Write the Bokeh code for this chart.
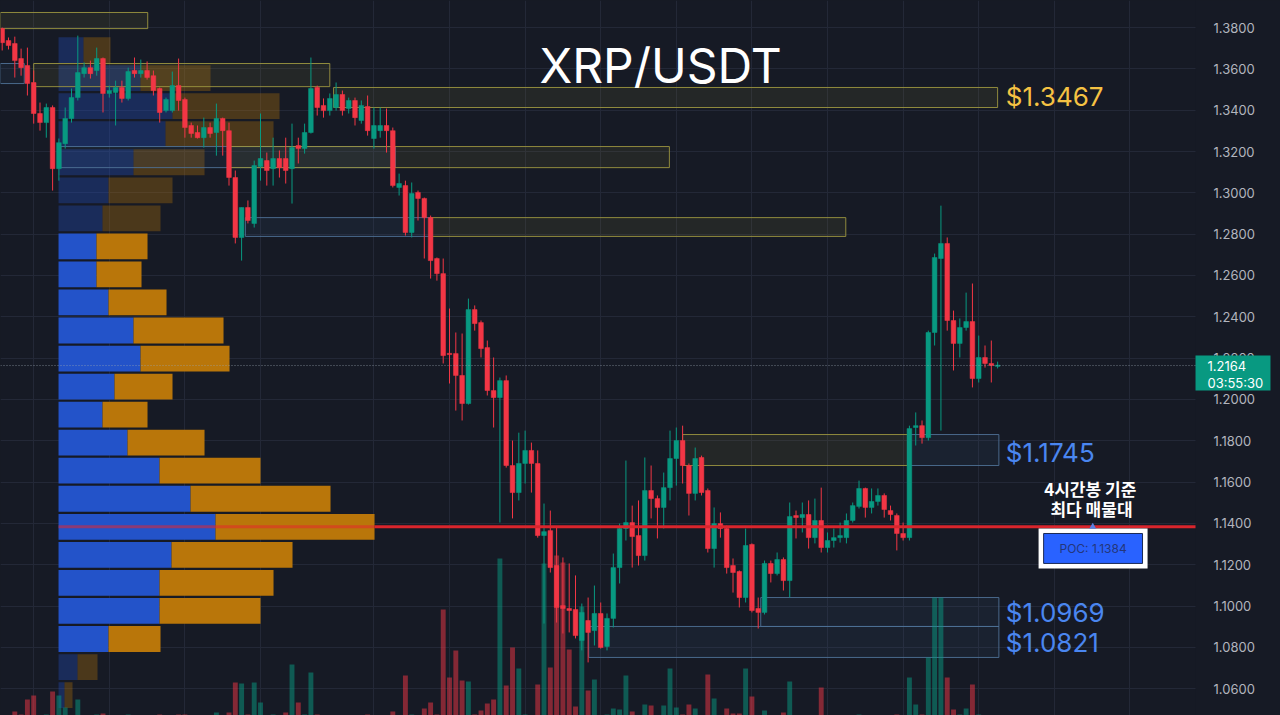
import numpy as np
from bokeh.plotting import figure
from bokeh.models import Range1d, FixedTicker, NumeralTickFormatter
from bokeh.core.properties import value
from bokeh.embed import file_html
from bokeh.resources import INLINE

# ---------------- data ----------------
opens = [1.3795, 1.3737, 1.3723, 1.3650, 1.3616, 1.3534, 1.3384, 1.3340, 1.3413, 1.3117,
         1.3238, 1.3360, 1.3461, 1.3577, 1.3606, 1.3592, 1.3650, 1.3481, 1.3486, 1.3510,
         1.3457, 1.3592, 1.3577, 1.3592, 1.3567, 1.3505, 1.3398, 1.3398, 1.3519, 1.3452,
         1.3326, 1.3292, 1.3267, 1.3316, 1.3292, 1.3360, 1.3301, 1.3074, 1.2784, 1.2929,
         1.2852, 1.3127, 1.3156, 1.3117, 1.3166, 1.3166, 1.3117, 1.3229, 1.3214, 1.3292,
         1.3510, 1.3423, 1.3398, 1.3413, 1.3476, 1.3408, 1.3447, 1.3350, 1.3418, 1.3263,
         1.3301, 1.3326, 1.3301, 1.3026, 1.3035, 1.2808, 1.3002, 1.2973, 1.2880, 1.2682,
         1.2609, 1.2222, 1.2222, 1.2116, 1.1980, 1.2435, 1.2372, 1.2251, 1.2043, 1.2009,
         1.2091, 1.1680, 1.1549, 1.1690, 1.1753, 1.1690, 1.1341, 1.1365, 1.1196, 1.1002,
         1.0988, 1.0983, 1.0833, 1.0930, 1.0881, 1.0964, 1.0804, 1.0940, 1.1186, 1.1375,
         1.1404, 1.1341, 1.1244, 1.1559, 1.1520, 1.1477, 1.1573, 1.1714, 1.1801, 1.1680,
         1.1545, 1.1719, 1.1559, 1.1278, 1.1399, 1.1375, 1.1196, 1.1167, 1.1041, 1.1298,
         1.0988, 1.0969, 1.1206, 1.1157, 1.1225, 1.1123, 1.1438, 1.1428, 1.1443, 1.1331,
         1.1414, 1.1283, 1.1317, 1.1331, 1.1331, 1.1414, 1.1482, 1.1569, 1.1477, 1.1506,
         1.1535, 1.1462, 1.1438, 1.1351, 1.1331, 1.1864, 1.1873, 1.1815, 1.2324, 1.2682,
         1.2755, 1.2382, 1.2271, 1.2348, 1.2377, 1.2101, 1.2203, 1.2174, 1.2160]
highs = [1.3800, 1.3752, 1.3756, 1.3698, 1.3703, 1.3592, 1.3437, 1.3432, 1.3423, 1.3263,
         1.3413, 1.3505, 1.3761, 1.3631, 1.3640, 1.3703, 1.3655, 1.3519, 1.3543, 1.3543,
         1.3606, 1.3655, 1.3645, 1.3636, 1.3592, 1.3510, 1.3461, 1.3587, 1.3650, 1.3461,
         1.3340, 1.3326, 1.3364, 1.3340, 1.3432, 1.3364, 1.3340, 1.3108, 1.2929, 1.2963,
         1.3156, 1.3384, 1.3195, 1.3267, 1.3205, 1.3267, 1.3335, 1.3267, 1.3335, 1.3655,
         1.3519, 1.3457, 1.3481, 1.3534, 1.3495, 1.3461, 1.3461, 1.3447, 1.3471, 1.3413,
         1.3413, 1.3408, 1.3316, 1.3093, 1.3059, 1.3050, 1.3011, 1.2977, 1.2890, 1.2687,
         1.2682, 1.2440, 1.2324, 1.2319, 1.2488, 1.2455, 1.2382, 1.2285, 1.2203, 1.2106,
         1.2116, 1.1801, 1.1839, 1.1849, 1.1791, 1.1753, 1.1496, 1.1462, 1.1380, 1.1235,
         1.1206, 1.1148, 1.1012, 1.1041, 1.1099, 1.1017, 1.0964, 1.1254, 1.1399, 1.1704,
         1.1486, 1.1511, 1.1719, 1.1680, 1.1535, 1.1646, 1.1849, 1.1864, 1.1873, 1.1690,
         1.1767, 1.1728, 1.1569, 1.1477, 1.1453, 1.1389, 1.1230, 1.1172, 1.1375, 1.1303,
         1.1041, 1.1220, 1.1220, 1.1259, 1.1235, 1.1501, 1.1462, 1.1501, 1.1511, 1.1520,
         1.1573, 1.1356, 1.1375, 1.1404, 1.1448, 1.1501, 1.1607, 1.1573, 1.1569, 1.1569,
         1.1545, 1.1486, 1.1448, 1.1404, 1.1873, 1.1937, 1.1898, 1.2333, 1.2706, 1.2938,
         1.2784, 1.2430, 1.2392, 1.2517, 1.2561, 1.2309, 1.2261, 1.2285, 1.2183]
lows = [1.3689, 1.3694, 1.3558, 1.3567, 1.3471, 1.3335, 1.3301, 1.3267, 1.3011, 1.3059,
        1.3214, 1.3340, 1.3447, 1.3558, 1.3553, 1.3567, 1.3389, 1.3461, 1.3326, 1.3437,
        1.3447, 1.3558, 1.3558, 1.3548, 1.3471, 1.3340, 1.3389, 1.3389, 1.3398, 1.3267,
        1.3267, 1.3263, 1.3219, 1.3267, 1.3180, 1.3180, 1.3035, 1.2755, 1.2672, 1.2852,
        1.2832, 1.3059, 1.3035, 1.3035, 1.3074, 1.3045, 1.2948, 1.3142, 1.3190, 1.3287,
        1.3374, 1.3364, 1.3374, 1.3398, 1.3374, 1.3384, 1.3326, 1.3335, 1.3277, 1.3214,
        1.3267, 1.3195, 1.3026, 1.2987, 1.2793, 1.2784, 1.2866, 1.2682, 1.2585, 1.2575,
        1.2174, 1.2077, 1.1946, 1.1898, 1.1975, 1.2333, 1.2203, 1.2019, 1.1864, 1.1404,
        1.1670, 1.1424, 1.1511, 1.1593, 1.1549, 1.1331, 1.0915, 1.1162, 1.0920, 1.0867,
        1.0872, 1.0843, 1.0785, 1.0727, 1.0809, 1.0794, 1.0785, 1.0896, 1.1109, 1.1317,
        1.1186, 1.1196, 1.1220, 1.1424, 1.1327, 1.1375, 1.1511, 1.1583, 1.1593, 1.1438,
        1.1511, 1.1535, 1.1259, 1.1186, 1.1331, 1.1157, 1.1065, 1.0993, 1.1017, 1.0969,
        1.0891, 1.0959, 1.1114, 1.1148, 1.1075, 1.1041, 1.1327, 1.1356, 1.1278, 1.1303,
        1.1259, 1.1259, 1.1283, 1.1307, 1.1303, 1.1404, 1.1472, 1.1428, 1.1448, 1.1486,
        1.1428, 1.1414, 1.1269, 1.1317, 1.1317, 1.1777, 1.1786, 1.1801, 1.2261, 1.1849,
        1.2333, 1.2140, 1.2203, 1.2333, 1.2058, 1.2082, 1.2154, 1.2082, 1.2150]
closes = [1.3727, 1.3713, 1.3640, 1.3606, 1.3529, 1.3384, 1.3340, 1.3413, 1.3117, 1.3243,
          1.3360, 1.3461, 1.3582, 1.3606, 1.3577, 1.3650, 1.3481, 1.3495, 1.3510, 1.3457,
          1.3587, 1.3577, 1.3592, 1.3558, 1.3495, 1.3389, 1.3452, 1.3519, 1.3447, 1.3316,
          1.3287, 1.3267, 1.3316, 1.3287, 1.3360, 1.3301, 1.3074, 1.2784, 1.2929, 1.2866,
          1.3132, 1.3166, 1.3108, 1.3166, 1.3122, 1.3108, 1.3219, 1.3214, 1.3292, 1.3505,
          1.3413, 1.3398, 1.3457, 1.3476, 1.3398, 1.3447, 1.3364, 1.3423, 1.3301, 1.3326,
          1.3326, 1.3301, 1.3035, 1.3045, 1.2808, 1.2997, 1.2973, 1.2880, 1.2672, 1.2609,
          1.2212, 1.2217, 1.2116, 1.1980, 1.2435, 1.2367, 1.2246, 1.2043, 1.2009, 1.2091,
          1.1680, 1.1549, 1.1690, 1.1753, 1.1690, 1.1341, 1.1360, 1.1186, 1.0993, 1.0988,
          1.0978, 1.0857, 1.0969, 1.0872, 1.0964, 1.0799, 1.0940, 1.1186, 1.1375, 1.1404,
          1.1336, 1.1244, 1.1559, 1.1520, 1.1477, 1.1573, 1.1714, 1.1801, 1.1680, 1.1545,
          1.1714, 1.1549, 1.1278, 1.1399, 1.1375, 1.1186, 1.1162, 1.1041, 1.1293, 1.0978,
          1.0969, 1.1206, 1.1157, 1.1225, 1.1123, 1.1433, 1.1428, 1.1443, 1.1331, 1.1414,
          1.1283, 1.1317, 1.1331, 1.1341, 1.1414, 1.1486, 1.1569, 1.1477, 1.1506, 1.1535,
          1.1467, 1.1443, 1.1351, 1.1331, 1.1859, 1.1873, 1.1815, 1.2324, 1.2687, 1.2755,
          1.2382, 1.2271, 1.2348, 1.2377, 1.2101, 1.2203, 1.2174, 1.2164, 1.2164]
volumes = [0.5, 0.5, 0.9, 0.6, 2.1, 2.5, 0.5, 0.6, 2.9, 2.5,
           1.3, 0.5, 2.1, 0.4, 0.5, 0.6, 0.7, 0.4, 0.5, 0.4,
           0.6, 0.4, 0.4, 0.5, 0.5, 0.6, 0.4, 0.5, 0.6, 0.6,
           0.4, 0.4, 0.5, 0.4, 0.8, 0.5, 0.8, 3.8, 3.7, 0.6,
           3.8, 1.8, 0.5, 0.6, 0.5, 0.8, 5.6, 1.8, 0.6, 4.8,
           0.6, 0.4, 0.5, 0.5, 0.5, 0.4, 0.5, 0.4, 0.6, 0.5,
           0.4, 0.5, 0.9, 0.5, 4.5, 0.6, 0.5, 1.2, 1.8, 0.6,
           11.1, 4.3, 7.0, 4.0, 3.9, 0.6, 1.0, 1.7, 2.1, 16.2,
           3.5, 7.3, 5.2, 0.6, 0.5, 3.6, 15.7, 5.3, 16.5, 15.8,
           7.1, 1.4, 11.4, 3.0, 4.1, 0.5, 0.6, 1.2, 1.1, 4.5,
           0.9, 0.5, 1.6, 1.5, 0.5, 1.5, 5.2, 1.3, 0.6, 1.6,
           1.2, 0.5, 4.6, 2.2, 0.5, 1.2, 0.7, 0.7, 5.2, 2.4,
           0.5, 1.0, 0.5, 0.5, 0.8, 3.9, 0.5, 0.4, 0.5, 0.5,
           3.3, 0.4, 0.5, 0.4, 0.5, 0.4, 0.6, 0.5, 0.4, 0.4,
           0.5, 0.4, 0.6, 0.5, 4.3, 1.6, 0.6, 6.3, 12.3, 12.3,
           4.3, 1.1, 0.6, 1.2, 3.6, 0.6, 0.5, 0.5, 0.3]

price_ticks = [1.06, 1.08, 1.10, 1.12, 1.14, 1.16, 1.18, 1.20, 1.22, 1.24,
               1.26, 1.28, 1.30, 1.32, 1.34, 1.36, 1.38]
session_ticks = [5, 17, 29, 41, 59, 71, 83, 95, 107, 119, 131, 143, 155, 167, 179]

# volume profile (rows from lowest price to highest)
profile_low = 1.0501
profile_high = 1.3759
profile_buy = [6, 19, 50, 101, 101, 113, 157, 132, 101, 69, 44, 56, 82, 75, 50, 38,
               38, 44, 50, 75, 107, 114, 82, 25]
profile_sell = [8, 20, 52, 101, 114, 121, 159, 140, 101, 77, 45, 58, 89, 90, 58, 45,
                51, 58, 64, 71, 108, 107, 70, 27]
value_area_low = 1.0772
value_area_high = 1.2809
poc_price = 1.1384
last_price = 1.2164
countdown = "03:55:30"

# supply (yellow) / demand (blue) zones: candle index bounds and price bounds
zone_left = [-0.3, -0.3, 5.0, 52.6, 9.3, 36.2, 38.6, 68.0, 108.0, 143.7, 120.4, 93.1]
zone_right = [23.1, 3.5, 52.0, 158.0, 62.4, 105.9, 68.0, 133.9, 143.7, 158.2, 158.2, 158.2]
zone_top = [1.3873, 1.3626, 1.3626, 1.3510, 1.3224, 1.3224, 1.2880, 1.2880, 1.1830, 1.1830, 1.1041, 1.0901]
zone_bottom = [1.3795, 1.3529, 1.3514, 1.3413, 1.3122, 1.3122, 1.2789, 1.2789, 1.1680, 1.1680, 1.0901, 1.0751]
zone_kind = ["supply", "demand", "supply", "supply", "demand", "supply", "demand", "supply",
             "supply", "demand", "demand", "demand"]

level_values = [1.3467, 1.1745, 1.0969, 1.0821]
level_kind = ["supply", "demand", "demand", "demand"]

# ---------------- style / layout ----------------
BG = "#161a25"
GRID = "#232837"
UP = "#089981"
DOWN = "#f23645"
PX_PER_BAR = 6.3
W, H = 1280, 715
X0, XEND = -0.27, 202.9          # full canvas width in bar units
AXIS_X = 189.41                  # where the price scale begins
Y0, Y1 = 1.0470, 1.3931

p = figure(width=W, height=H, x_range=Range1d(X0, XEND), y_range=Range1d(Y0, Y1),
           x_axis_location=None, y_axis_location="right", toolbar_location=None,
           output_backend="svg", min_border_left=0, min_border_top=0,
           min_border_bottom=0, min_border_right=0)
p.background_fill_color = BG
p.border_fill_color = BG
p.outline_line_color = None

try:
    from bokeh.models import GlobalInlineStyleSheet
    p.stylesheets = [GlobalInlineStyleSheet(css="html, body { background: #161a25; }")]
except Exception:
    pass

# grids and axis
p.ygrid.ticker = FixedTicker(ticks=price_ticks)
p.ygrid.grid_line_color = GRID
p.xgrid.ticker = FixedTicker(ticks=session_ticks)
p.xgrid.grid_line_color = GRID
ax = p.yaxis[0]
ax.fixed_location = AXIS_X
ax.ticker = FixedTicker(ticks=price_ticks)
ax.formatter = NumeralTickFormatter(format="0.0000")
ax.axis_line_color = None
ax.major_tick_line_color = None
ax.minor_tick_line_color = None
ax.major_label_text_color = "#b2b5be"
ax.major_label_text_font = "Inter"
ax.major_label_text_font_size = "13px"
ax.major_label_standoff = 12

# price-scale background (hides grid lines behind the scale)
p.quad(left=[AXIS_X], right=[XEND + 1], top=[Y1 + 1], bottom=[Y0 - 1],
       fill_color=BG, line_color=None)

# volume profile
buy = np.array(profile_buy, float)
sell = np.array(profile_sell, float)
nrows = len(buy)
step = (profile_high - profile_low) / nrows
mids = profile_low + step * (np.arange(nrows) + 0.5)
in_va = (mids >= value_area_low) & (mids <= value_area_high)
prof_x0 = 8.94
scale = 1.0 / PX_PER_BAR
b_right = prof_x0 + buy * scale
s_right = b_right + sell * scale
alpha = np.where(in_va, 1.0, 0.33)
p.hbar(y=mids, height=step * 0.92, left=prof_x0, right=b_right,
       fill_color="#2353c9", fill_alpha=alpha, line_color=None)
p.hbar(y=mids, height=step * 0.92, left=b_right, right=s_right,
       fill_color="#b9760a", fill_alpha=alpha, line_color=None)

# zones
zcol = ["#9c9640" if k == "supply" else "#4f7196" for k in zone_kind]
zfill = ["#9c9640" if k == "supply" else "#3d6690" for k in zone_kind]
p.quad(left=zone_left, right=zone_right, top=zone_top, bottom=zone_bottom,
       fill_color=zfill, fill_alpha=0.11, line_color=zcol, line_width=1, line_alpha=0.9)

# volume bars
o = np.array(opens); h = np.array(highs); l = np.array(lows); c = np.array(closes)
idx = np.arange(len(o))
up = c >= o
ccol = np.where(up, UP, DOWN)
vol = np.array(volumes)
p.extra_y_ranges = {"vol": Range1d(0.5, 72.0)}
p.vbar(x=idx, width=0.78, top=vol, bottom=0, y_range_name="vol",
       fill_color=ccol, fill_alpha=0.5, line_color=None)

# candles
p.segment(x0=idx, y0=l, x1=idx, y1=h, line_color=ccol, line_width=1)
btop = np.maximum(o, c)
bbot = np.minimum(o, c)
btop = np.maximum(btop, bbot + 0.0006)
p.vbar(x=idx, width=0.74, top=btop, bottom=bbot, fill_color=ccol, line_color=ccol, line_width=0.5)

# POC line
poc_row = int(np.argmax(buy + sell))
poc_end = float(s_right[poc_row])
p.segment(x0=[prof_x0], y0=[poc_price], x1=[poc_end], y1=[poc_price],
          line_color="#e5262e", line_alpha=0.55, line_width=3)
p.segment(x0=[poc_end], y0=[poc_price], x1=[AXIS_X], y1=[poc_price],
          line_color="#d9252c", line_width=3)

# last price dotted line
p.segment(x0=[X0], y0=[last_price], x1=[AXIS_X], y1=[last_price],
          line_color="#9aa6b2", line_alpha=0.7, line_dash="1 2", line_width=1)

# level labels
lab_x = max(zone_right) + 1.1
p.text(x=[lab_x] * len(level_values), y=level_values,
       text=["$%.4f" % v for v in level_values],
       text_color=["#f5c243" if k == "supply" else "#4a86f0" for k in level_kind],
       text_font=value("Inter"), text_font_size="26px",
       text_align="left", text_baseline="middle")

# title
p.text(x=[104.5], y=[1.3616], text=["XRP/USDT"], text_color="#ffffff",
       text_font=value("Inter"), text_font_size="48px",
       text_align="center", text_baseline="middle")

# POC annotation
p.text(x=[172.7, 172.9], y=[poc_price + 0.0185, poc_price + 0.0088],
       text=["4시간봉 기준", "최다 매물대"], text_color="#ffffff",
       text_font=value("Noto Sans CJK KR"), text_font_style="bold",
       text_font_size="17px", text_align="center", text_baseline="middle")
p.quad(left=[164.5], right=[181.8], top=[poc_price - 0.0009], bottom=[poc_price - 0.0202],
       fill_color="#ffffff", line_color=None)
p.quad(left=[165.3], right=[181.0], top=[poc_price - 0.0033], bottom=[poc_price - 0.0178],
       fill_color="#2962ff", line_color="#1b2a55", line_width=1)
p.text(x=[173.15], y=[poc_price - 0.0105], text=["POC: %.4f" % poc_price],
       text_color="#24367a", text_font=value("Inter"), text_font_size="12px",
       text_align="center", text_baseline="middle")
p.scatter(x=[173.1], y=[poc_price], marker="triangle", size=7,
          fill_color="#5b7fe0", line_color=None)

# last price tag on the price scale (drawn above the scale labels)
p.quad(left=[AXIS_X], right=[AXIS_X + 11.9], top=[last_price + 0.0049],
       bottom=[last_price - 0.0121], fill_color=UP, line_color=None, level="overlay")
p.text(x=[AXIS_X + 1.9, AXIS_X + 1.9], y=[last_price, last_price - 0.0083],
       text=["%.4f" % last_price, countdown], text_color="#ffffff",
       text_font=value("Inter"), text_font_size="13px",
       text_align="left", text_baseline="middle", level="overlay")

open("out.html", "w").write(file_html(p, INLINE))
